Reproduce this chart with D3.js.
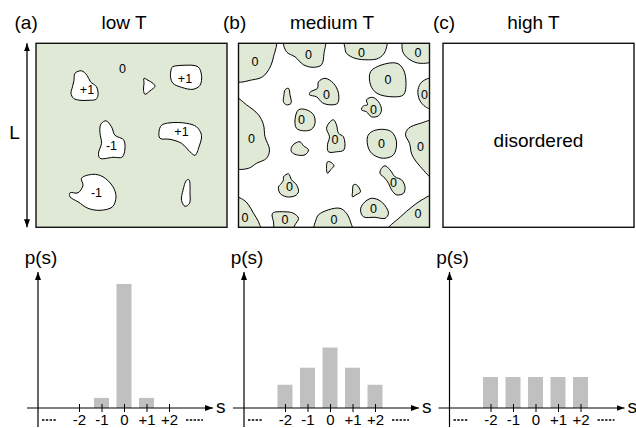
<!DOCTYPE html>
<html>
<head>
    <meta charset="utf-8">
    <title>spin domains</title>
    <style>
        body { margin: 0; background: #fff; }
        text { font-family: "Liberation Sans", Arial, sans-serif; fill: #000; }
    </style>
</head>
<body>
<script src="https://d3js.org/d3.v7.min.js"></script>
<script>
    var width = 636,
        height = 428;

    // spin values on the histogram axis and their probabilities p(s)
    var spins = [-2, -1, 0, 1, 2];
    var pLow = [0, 0.065, 0.8, 0.065, 0],
        pMedium = [0.15, 0.26, 0.39, 0.26, 0.15],
        pHigh = [0.2, 0.2, 0.2, 0.2, 0.2];

    var titles = ['low T', 'medium T', 'high T'],
        letters = ['(a)', '(b)', '(c)'];

    // domain outlines, in box units (box is 191 x 184, origin top-left)
    var lowDomains = [
        {label: '+1', lx: 51, ly: 47, pts: [[39,30],[45.5,27.5],[51,32],[54.5,38.5],[60.5,43.5],[62,52],[60,56],[52,57],[44,57],[37.5,55],[35,50],[36.5,43.5],[38,37]]},
        {label: '', pts: [[108,35],[112,37],[117,40],[119,43],[114,47.5],[109,51],[107.5,47],[108,40]]},
        {label: '+1', lx: 149, ly: 36, pts: [[136.5,23.5],[147,22],[162,23.5],[165.5,32],[164,42],[157,46],[145.5,44],[137,40],[134.5,33.5],[135.5,25]]},
        {label: '-1', lx: 75.5, ly: 102.5, pts: [[65.5,80],[70,77.5],[75.5,83.5],[79,92],[88,97],[86.5,113.5],[77,114],[64,115],[62.5,110],[65.5,100],[64,90],[64,83.5]]},
        {label: '+1', lx: 145.5, ly: 89, pts: [[125.5,82],[134,79.5],[150.5,80],[160.5,83.5],[165.5,92],[163,103.5],[159,112],[154,108.5],[145.5,100],[134,96],[124,95],[123,88.5]]},
        {label: '-1', lx: 60.5, ly: 150, pts: [[45.5,135],[57,131],[67,133.5],[77,143.5],[80,153.5],[76.5,163.5],[64,167],[52,165],[42,158.5],[34,153.5],[34,149.5],[42,149.5],[47,142]]},
        {label: '', pts: [[150.5,137],[153,136.5],[154,150],[153.5,160],[149,163],[145.5,157],[147,147]]}
    ];
    var lowBackground = {label: '0', lx: 86.5, ly: 25.5};

    var mediumDomains = [
        {lx: 16.5, ly: 18.5, pts: [[-4,-4],[37,-4],[35,13.5],[31,25],[24,33.5],[14,36.5],[-4,37.5]]},
        {lx: 70, ly: 11.5, pts: [[45.5,-4],[86,-4],[85.5,10],[83,21.5],[75,24],[65,21.5],[56.5,13.5],[48,8.5]]},
        {lx: 123, ly: 9.5, pts: [[106.5,-4],[147.5,-4],[146.5,8.5],[140,15],[130,16.5],[116.5,15],[108,10],[106.5,5]]},
        {lx: 179.5, ly: 10, pts: [[165,-4],[195,-4],[195,17],[181.5,20],[171.5,16.5],[165,10],[163.5,3.5]]},
        {lx: 149.5, ly: 36.5, pts: [[132,28.5],[143.5,21.5],[158.5,20],[165,26.5],[167.5,40],[165,51.5],[153.5,53.5],[138.5,50],[132,41.5]]},
        {lx: 186, ly: 51.5, pts: [[195,35],[183.5,38.5],[179.5,46.5],[181,56.5],[187,63.5],[195,66]]},
        {pts: [[46.5,46.5],[50,45],[51.5,51.5],[52.5,60],[48,61.5],[45,58.5],[45.5,51.5]]},
        {lx: 88, ly: 51.5, pts: [[80,38.5],[86.5,35],[95,40],[100,50],[99,60],[91.5,61.5],[84,59.5],[78,53.5],[71,51.5],[72,48.5],[79,45]]},
        {lx: 135, ly: 66.5, pts: [[128,56.5],[134,54],[140,58.5],[143,66.5],[140,72.5],[133,73.5],[128,68.5],[123,66.5],[125,62.5],[129,61.5]]},
        {lx: 63, ly: 76.5, pts: [[60,66.5],[68,66.5],[75,71.5],[76.5,80],[73,86],[65,87.5],[58,85],[56.5,76.5]]},
        {lx: 13, ly: 96, pts: [[-4,54],[8,61.5],[20,71.5],[25,81.5],[26.5,93.5],[31,106.5],[28,115],[18,120],[10,125],[-4,124]]},
        {lx: 96.5, ly: 96.5, pts: [[91.5,78.5],[95,76.5],[98,81.5],[100,90],[105,93.5],[105.5,106.5],[98,108.5],[90,108.5],[89,101.5],[91,93.5],[88,85]]},
        {lx: 143, ly: 100.5, pts: [[133,88.5],[143,86],[153,88.5],[158,98.5],[155,111.5],[145,115],[135,111.5],[130,105],[129,93.5]]},
        {lx: 182, ly: 103.5, pts: [[195,78],[182,80],[170,85],[167,91.5],[171,100],[173.5,111.5],[182,123.5],[195,135]]},
        {pts: [[56.5,100],[61.5,98.5],[65,102.5],[70,106.5],[66.5,111.5],[58,111.5],[53,108.5],[53,104]]},
        {pts: [[89,118.5],[91.5,118.5],[95.5,122.5],[92,126.5],[89,130],[88,125]]},
        {lx: 155, ly: 139.5, pts: [[143,125],[146.5,122.5],[151.5,126.5],[156.5,133.5],[163,136.5],[166.5,143.5],[165,150],[158,151.5],[153,146.5],[150,140],[146.5,135],[141.5,130]]},
        {lx: 51, ly: 143.5, pts: [[45,133.5],[50,130.5],[53,136.5],[58,141.5],[60,148.5],[56.5,152.5],[48,153.5],[41.5,150],[40,143.5],[43,140],[45,136.5]]},
        {pts: [[115,141.5],[118,141.5],[122,148.5],[117.5,151.5],[114,153.5],[114,148.5]]},
        {lx: 6.5, ly: 175, pts: [[-4,154],[5,156.5],[10,161.5],[15,170],[20,178.5],[22,188],[-4,188]]},
        {lx: 46.5, ly: 177, pts: [[34,170],[46.5,168.5],[55,170],[60,175],[56.5,181.5],[53,188],[37,188],[35,178.5]]},
        {lx: 95.5, ly: 176.5, pts: [[80,171.5],[90,166.5],[101.5,165],[108,170],[112,178.5],[113.5,188],[76,188],[77.5,176.5]]},
        {lx: 135, ly: 165.5, pts: [[125,160],[133,155],[143,158.5],[150,170],[146.5,175],[136.5,174],[125,173.5],[122,166.5]]},
        {lx: 179.5, ly: 170.5, pts: [[148,188],[162,173.5],[173.5,163.5],[183.5,156.5],[195,152],[195,188]]}
    ];

    var green = '#dfe9d5',
        barGrey = '#c0c0c0';

    var boxW = 191, boxH = 184, boxTop = 43.3,
        boxLeft = [36, 238.5, 443];

    var svg = d3.select('body').append('svg')
            .attr('width', width)
            .attr('height', height);

    var defs = svg.append('defs');
    defs.append('marker')
            .attr('id', 'arrow')
            .attr('viewBox', '0 0 8 6')
            .attr('refX', 8).attr('refY', 3)
            .attr('markerWidth', 8).attr('markerHeight', 6)
            .attr('markerUnits', 'userSpaceOnUse')
            .attr('orient', 'auto-start-reverse')
            .append('path')
            .attr('d', 'M0,0L8,3L0,6Z')
            .attr('fill', '#000');

    var outline = d3.line().curve(d3.curveCatmullRomClosed.alpha(0.5));

    function drawPanel(i, background, domains, domainFill, defaultLabel) {
        var x = d3.scaleLinear().domain([0, boxW]).range([boxLeft[i], boxLeft[i] + boxW]),
            y = d3.scaleLinear().domain([0, boxH]).range([boxTop, boxTop + boxH]);

        defs.append('clipPath').attr('id', 'clip' + i)
                .append('rect')
                .attr('x', x(0)).attr('y', y(0))
                .attr('width', x(boxW) - x(0)).attr('height', y(boxH) - y(0));

        var g = svg.append('g');
        g.append('rect')
                .attr('x', x(0)).attr('y', y(0))
                .attr('width', x(boxW) - x(0)).attr('height', y(boxH) - y(0))
                .attr('fill', background);

        var blobs = g.append('g').attr('clip-path', 'url(#clip' + i + ')');
        blobs.selectAll('path')
                .data(domains)
                .enter().append('path')
                .attr('d', function (d) {
                    return outline(d.pts.map(function (p) { return [x(p[0]), y(p[1])]; }));
                })
                .attr('fill', domainFill)
                .attr('stroke', '#000')
                .attr('stroke-width', 1);

        g.selectAll('text.lab')
                .data(domains.filter(function (d) { return d.lx !== undefined; }))
                .enter().append('text')
                .attr('class', 'lab')
                .attr('x', function (d) { return x(d.lx); })
                .attr('y', function (d) { return y(d.ly); })
                .attr('text-anchor', 'middle')
                .attr('dominant-baseline', 'central')
                .style('font-size', '12.5px')
                .text(function (d) { return d.label !== undefined ? d.label : defaultLabel; });

        g.append('rect')
                .attr('x', x(0)).attr('y', y(0))
                .attr('width', x(boxW) - x(0)).attr('height', y(boxH) - y(0))
                .attr('fill', 'none')
                .attr('stroke', '#111')
                .attr('stroke-width', 1.4);
        return {x: x, y: y, g: g};
    }

    var pa = drawPanel(0, green, lowDomains, '#fff', '');
    pa.g.append('text')
            .attr('x', pa.x(lowBackground.lx))
            .attr('y', pa.y(lowBackground.ly))
            .attr('text-anchor', 'middle')
            .attr('dominant-baseline', 'central')
            .style('font-size', '12.5px')
            .text(lowBackground.label);
    drawPanel(1, '#fff', mediumDomains, green, '0');
    var pc = drawPanel(2, '#fff', [], green, '');
    pc.g.append('text')
            .attr('x', pc.x(boxW / 2))
            .attr('y', 147)
            .attr('text-anchor', 'middle')
            .style('font-size', '19px')
            .text('disordered');

    // titles
    var letterX = [14.5, 223, 433],
        titleX = [124, 332, 533.5];
    svg.selectAll('text.letter')
            .data(letters)
            .enter().append('text')
            .attr('class', 'letter')
            .attr('x', function (d, i) { return letterX[i]; })
            .attr('y', 29)
            .style('font-size', '19px')
            .text(function (d) { return d; });
    svg.selectAll('text.title')
            .data(titles)
            .enter().append('text')
            .attr('class', 'title')
            .attr('x', function (d, i) { return titleX[i]; })
            .attr('y', 29)
            .attr('text-anchor', 'middle')
            .style('font-size', '19px')
            .text(function (d) { return d; });

    // system size L
    svg.append('line')
            .attr('x1', 27).attr('x2', 27)
            .attr('y1', boxTop).attr('y2', boxTop + boxH)
            .attr('stroke', '#000').attr('stroke-width', 1.3)
            .attr('marker-start', 'url(#arrow)')
            .attr('marker-end', 'url(#arrow)');
    svg.append('text')
            .attr('x', 9.3).attr('y', 139.3)
            .style('font-size', '19px')
            .text('L');

    // histograms p(s)
    var axisX = [38, 244, 449.5],
        axisY = 408;

    function drawHist(k, probs) {
        var ax = axisX[k];
        var x = d3.scaleLinear().domain([-2, 2]).range([ax + 41, ax + 131]),
            y = d3.scaleLinear().domain([0, 1]).range([axisY, axisY - 155]);
        var g = svg.append('g');

        g.selectAll('rect')
                .data(spins.map(function (s, i) { return {s: s, p: probs[i]}; })
                        .filter(function (d) { return d.p > 0; }))
                .enter().append('rect')
                .attr('x', function (d) { return x(d.s) - 7.5; })
                .attr('y', function (d) { return y(d.p); })
                .attr('width', 15)
                .attr('height', function (d) { return y(0) - y(d.p); })
                .attr('fill', barGrey);

        var axis = d3.axisBottom(x)
                .tickValues(spins)
                .tickSize(4)
                .tickFormat(function (d) { return d > 0 ? '+' + d : '' + d; });
        var ag = g.append('g')
                .attr('transform', 'translate(0,' + axisY + ')')
                .call(axis);
        ag.select('.domain').remove();
        ag.selectAll('.tick line').attr('y1', -4).attr('y2', 4).attr('stroke', '#000');
        ag.selectAll('.tick text')
                .attr('y', 17).attr('dy', 0)
                .attr('fill', '#000')
                .style('font-family', '"Liberation Sans", Arial, sans-serif')
                .style('font-size', '15px');

        // x axis and y axis arrows
        g.append('line')
                .attr('x1', ax - 11).attr('x2', ax + 175)
                .attr('y1', axisY).attr('y2', axisY)
                .attr('stroke', '#000').attr('stroke-width', 1.2)
                .attr('marker-end', 'url(#arrow)');
        g.append('line')
                .attr('x1', ax).attr('x2', ax)
                .attr('y1', 427).attr('y2', 272)
                .attr('stroke', '#000').attr('stroke-width', 1.2)
                .attr('marker-end', 'url(#arrow)');

        // dotted leaders either side of the tick labels
        [[ax + 4, ax + 18], [ax + 148, ax + 165]].forEach(function (seg) {
            g.append('line')
                    .attr('x1', seg[0]).attr('x2', seg[1])
                    .attr('y1', 420).attr('y2', 420)
                    .attr('stroke', '#000').attr('stroke-width', 1.3)
                    .attr('stroke-dasharray', '2.4,1.4');
        });

        g.append('text')
                .attr('x', ax + 3).attr('y', 264)
                .attr('text-anchor', 'middle')
                .style('font-size', '19px')
                .text('p(s)');
        g.append('text')
                .attr('x', ax + 178).attr('y', 413)
                .style('font-size', '19px')
                .text('s');
    }

    drawHist(0, pLow);
    drawHist(1, pMedium);
    drawHist(2, pHigh);
</script>
</body>
</html>
